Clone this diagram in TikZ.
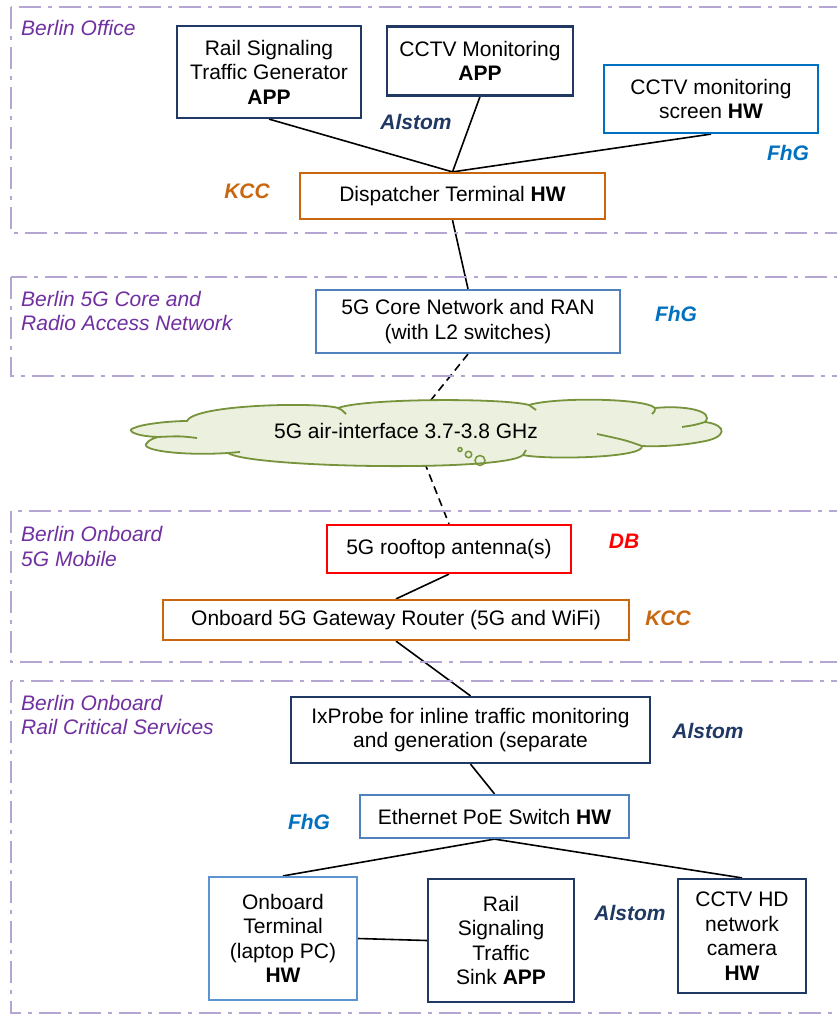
\documentclass[tikz,border=0pt]{standalone}
\usepackage{fontspec}
\setmainfont{Liberation Sans}
\usetikzlibrary{backgrounds}

\definecolor{navy}{HTML}{1F3864}
\definecolor{fhgblue}{HTML}{0070C0}
\definecolor{steel}{HTML}{4F81BD}
\definecolor{lightsteel}{HTML}{5B94D0}
\definecolor{kccorange}{HTML}{C9670F}
\definecolor{dbred}{HTML}{FF0000}
\definecolor{grouppurple}{HTML}{7030A0}
\definecolor{groupline}{HTML}{B4A5D2}
\definecolor{cloudfill}{HTML}{EBF1DE}
\definecolor{cloudline}{HTML}{77933C}

\tikzset{
  box/.style={draw, line width=2.2pt, fill=white, align=center, inner sep=0pt,
    font=\fontsize{21}{24.5}\selectfont},
  orgtag/.style={font=\fontsize{21}{24}\selectfont\bfseries\itshape, inner sep=0pt},
  grouptitle/.style={font=\fontsize{21}{24.5}\selectfont\itshape, text=grouppurple,
    align=left, inner sep=0pt, anchor=west},
  groupframe/.style={draw=groupline, line width=2.2pt,
    dash pattern=on 22pt off 7pt on 4pt off 7pt},
  link/.style={draw=black, line width=1.6pt},
  radiolink/.style={link, dash pattern=on 8pt off 5pt},
  cloudedge/.style={draw=cloudline, line width=1.8pt},
}

\begin{document}
\begin{tikzpicture}[x=1pt,y=-1pt]
\clip (0,0) rectangle (837,1014);
\begin{pgfonlayer}{background}
  \fill[white] (0,0) rectangle (837,1014);
\end{pgfonlayer}

% ---- group frames ----
\draw[groupframe] (11,7) rectangle (860,233);
\draw[groupframe] (11,277) rectangle (860,376);
\draw[groupframe] (11,511) rectangle (860,662);
\draw[groupframe] (11,681) rectangle (860,1013);

\node[grouptitle] (gOffice) at (21,28) {Berlin Office};
\node[grouptitle] (gCore) at (21,311) {Berlin 5G Core and\\Radio Access Network};
\node[grouptitle] (gMobile) at (21,546.5) {Berlin Onboard\\5G Mobile};
\node[grouptitle] (gRail) at (21,715) {Berlin Onboard\\Rail Critical Services};

% ---- Berlin Office ----
\node[box, draw=navy, minimum width=184, minimum height=92] (rsg) at (269,72)
  {Rail Signaling\\Traffic Generator\\\textbf{APP}};
\node[box, draw=navy, minimum width=186, minimum height=69] (cctvapp) at (480,61)
  {CCTV Monitoring\\\textbf{APP}};
\node[box, draw=fhgblue, minimum width=214, minimum height=68] (screen) at (711,99)
  {CCTV monitoring\\screen \textbf{HW}};
\node[box, draw=kccorange, minimum width=305, minimum height=46] (disp) at (452.5,196)
  {Dispatcher Terminal \textbf{HW}};

\node[orgtag, text=navy] (oAlstom1) at (416,122) {Alstom};
\node[orgtag, text=fhgblue] (oFhG1) at (788,153) {FhG};
\node[orgtag, text=kccorange] (oKCC1) at (247,191) {KCC};

% ---- 5G core ----
\node[box, draw=steel, minimum width=304, minimum height=63] (core) at (468,321.5)
  {5G Core Network and RAN\\(with L2 switches)};
\node[orgtag, text=fhgblue] (oFhG2) at (676,314) {FhG};

% ---- air interface: flattened cloud ----
\coordinate (air) at (410,426);
\path[cloudedge, fill=cloudfill]
  (158,437) .. controls (133,436) and (126,430) .. (134,428)
  .. controls (142,424) and (170,421) .. (187,421)
  .. controls (195,404) and (320,402) .. (338,408)
  .. controls (365,398) and (505,398) .. (529,405)
  .. controls (555,397) and (645,398) .. (655,408)
  .. controls (685,405) and (715,411) .. (705,422)
  .. controls (728,425) and (728,438) .. (700,442)
  .. controls (685,445) and (660,447) .. (642,446)
  .. controls (645,458) and (545,460) .. (523,455)
  .. controls (505,472) and (250,468) .. (228,453)
  .. controls (180,456) and (138,450) .. (147,443)
  .. controls (149,440) and (154,438) .. (158,437) -- cycle;
% inner strokes where the lobes meet
\draw[cloudedge] (158,437) .. controls (180,436) .. (197,438);
\draw[cloudedge] (338,408) .. controls (342,410) .. (346,414);
\draw[cloudedge] (529,405) .. controls (533,407) .. (536,410);
\draw[cloudedge] (655,408) .. controls (655,411) .. (652,414);
\draw[cloudedge] (705,422) .. controls (695,425) .. (682,427);
\draw[cloudedge] (642,446) .. controls (625,440) .. (597,434);
\draw[cloudedge] (523,455) .. controls (524,452) .. (526,450);
\draw[cloudedge] (228,453) .. controls (234,452) .. (240,452);
\node[font=\fontsize{21}{24}\selectfont, inner sep=0pt] (airlabel) at (406,431)
  {5G air-interface 3.7-3.8 GHz};
\draw[cloudedge, line width=1.5pt] (460,449.5) circle (2);
\draw[cloudedge, line width=1.5pt] (468.5,454.5) circle (3.2);
\draw[cloudedge, line width=1.5pt] (480,460.5) circle (5);

% ---- onboard 5G mobile ----
\node[box, draw=dbred, minimum width=244, minimum height=48] (ant) at (449,549)
  {5G rooftop antenna(s)};
\node[orgtag, text=dbred] (oDB) at (624,541) {DB};
\node[box, draw=kccorange, minimum width=466, minimum height=40] (gw) at (396,620)
  {Onboard 5G Gateway Router (5G and WiFi)};
\node[orgtag, text=kccorange] (oKCC2) at (668,618) {KCC};

% ---- onboard rail critical services ----
\node[box, draw=navy, minimum width=359, minimum height=66] (ixp) at (470.5,730)
  {IxProbe for inline traffic monitoring\\and generation (separate};
\node[orgtag, text=navy] (oAlstom2) at (708,731) {Alstom};
\node[box, draw=steel, minimum width=269, minimum height=43] (sw) at (494.5,816.5)
  {Ethernet PoE Switch \textbf{HW}};
\node[orgtag, text=fhgblue] (oFhG3) at (309,822) {FhG};
\node[box, draw=lightsteel, minimum width=148, minimum height=123] (term) at (283,938.5)
  {Onboard\\Terminal\\(laptop PC)\\\textbf{HW}};
\node[box, draw=navy, minimum width=146, minimum height=123] (sink) at (501,940.5)
  {Rail\\Signaling\\Traffic\\Sink \textbf{APP}};
\node[orgtag, text=navy] (oAlstom3) at (630,913) {Alstom};
\node[box, draw=navy, minimum width=128, minimum height=114] (cam) at (742,936)
  {CCTV HD\\network\\camera\\\textbf{HW}};

% ---- connectors (behind the boxes and the cloud) ----
\begin{pgfonlayer}{background}
  \draw[link] (rsg.south) -- (disp.north);
  \draw[link] (cctvapp.south) -- (disp.north);
  \draw[link] (screen.south) -- (disp.north);
  \draw[link] (disp.south) -- (core.north);
  \draw[radiolink] (core.south) -- (air);
  \draw[radiolink] (air) -- (ant.north);
  \draw[link] (ant.south) -- (gw.north);
  \draw[link] (gw.south) -- (ixp.north);
  \draw[link] (ixp.south) -- (sw.north);
  \draw[link] (sw.south) -- (term.north);
  \draw[link] (sw.south) -- (cam.north);
  \draw[link] (term.east) -- (sink.west);
\end{pgfonlayer}
\end{tikzpicture}
\end{document}
